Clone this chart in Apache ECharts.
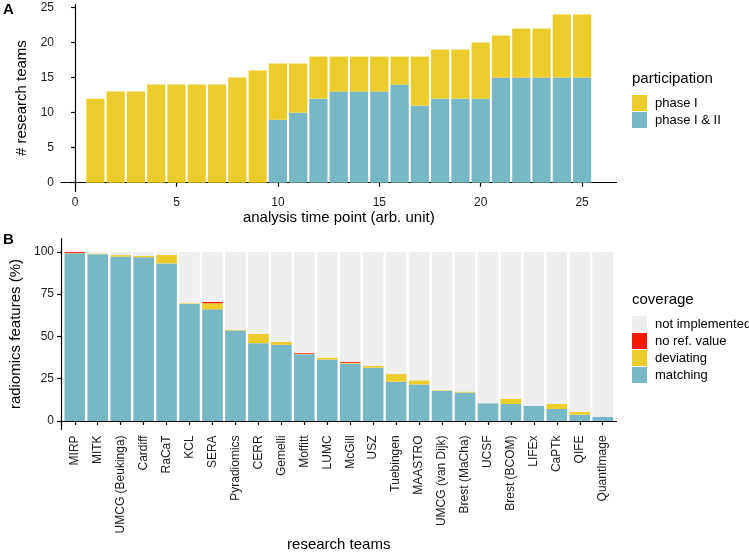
<!DOCTYPE html>
<html>
<head>
<meta charset="utf-8">
<script src="https://cdn.jsdelivr.net/npm/echarts@6/dist/echarts.min.js"></script>
<style>html,body{margin:0;padding:0;background:#fff}#c{width:749px;height:556px}</style>
</head>
<body>
<div id="c"></div>
<script>
// ---- Panel A data ----
const timePoints = [1,2,3,4,5,6,7,8,9,10,11,12,13,14,15,16,17,18,19,20,21,22,23,24,25];
const phaseIOnly = [12,13,13,14,14,14,14,15,16,8,7,6,5,5,5,4,7,7,7,8,6,7,7,9,9];
const phaseIandII = [0,0,0,0,0,0,0,0,0,9,10,12,13,13,13,14,11,12,12,12,15,15,15,15,15];
const ticksA_x = [0,5,10,15,20,25];
const ticksA_y = [0,5,10,15,20,25];

// ---- Panel B data ----
const teams = ["MIRP","MITK","UMCG (Beukinga)","Cardiff","RaCaT","KCL","SERA","Pyradiomics","CERR","Gemelli","Moffitt","LUMC","McGill","USZ","Tuebingen","MAASTRO","UMCG (van Dijk)","Brest (MaCha)","UCSF","Brest (BCOM)","LIFEx","CaPTk","QIFE","QuantImage"];
const matching =  [99.2,98.6,97.2,96.8,93.2,69.2,66.0,53.5,46.0,45.0,39.5,36.3,33.9,31.5,23.2,21.6,17.8,16.8,10.5,10.0,8.9,7.1,3.7,2.5];
const deviating = [0.2,0.4,0.9,0.9,5.0,0.4,3.6,0.5,5.4,1.8,0.3,1.2,0.5,1.2,4.5,2.4,0.4,0.6,0.0,3.0,0.0,3.0,1.6,0.0];
const noRefValue = [0.6,0,0,0,0,0,0.8,0,0,0,0.5,0,0.6,0,0,0,0,0,0,0,0,0,0,0];
const ticksB_y = [0,25,50,75,100];
const notImplemented = teams.map((t,i) => Math.max(0, 100 - matching[i] - deviating[i] - noRefValue[i]));

const FONT = 'Liberation Sans, Arial, sans-serif';
const C_TEAL = '#78B7C5', C_YEL = '#EBCC2A', C_RED = '#F21A00', C_GRAY = '#EFEFEF';

const chart = echarts.init(document.getElementById('c'), null, {renderer: 'canvas'});

const axisLineStyle = {show: true, lineStyle: {color: '#000', width: 1.2}};
const tickStyle = {show: true, length: 4, lineStyle: {color: '#000', width: 1.2}};
const labelStyle = {color: '#1a1a1a', fontFamily: FONT, fontSize: 12};
const nameStyle = {color: '#000', fontFamily: FONT, fontSize: 15};
const legendText = {fontFamily: FONT, fontSize: 13, color: '#000', padding: [0,0,0,3]};

// data items are [value, position] so that the value is the stacked (first numeric) dimension
function barSeries(name, gi, stack, width, color, positions, values) {
  return {
    name: name, type: 'bar', xAxisIndex: gi, yAxisIndex: gi, stack: stack, barWidth: width,
    encode: {x: 1, y: 0},
    itemStyle: {color: color},
    data: positions.map((p, i) => [values[i], p])
  };
}
const teamPos = teams.map((t, i) => i + 1);

const option = {
  animation: false,
  textStyle: {fontFamily: FONT},
  grid: [
    {left: 61, right: 132.5, top: 4.7, bottom: 364.5, containLabel: false},
    {left: 61, right: 132.5, top: 238.7, bottom: 126.6, containLabel: false}
  ],
  xAxis: [
    {
      gridIndex: 0, type: 'value', min: -0.695, max: 26.695,
      name: 'analysis time point (arb. unit)', nameLocation: 'middle', nameGap: 19,
      nameTextStyle: nameStyle,
      axisLine: axisLineStyle,
      axisTick: Object.assign({customValues: ticksA_x}, tickStyle),
      axisLabel: Object.assign({customValues: ticksA_x, margin: 5}, labelStyle),
      splitLine: {show: false}
    },
    {
      gridIndex: 1, type: 'value', min: 0.4, max: teams.length + 0.6,
      name: 'research teams', nameLocation: 'middle', nameGap: 108,
      nameTextStyle: nameStyle,
      axisLine: axisLineStyle,
      axisTick: Object.assign({customValues: teamPos}, tickStyle),
      axisLabel: Object.assign({customValues: teamPos, rotate: 90, margin: 6,
        formatter: v => teams[Math.round(v)-1] || ''}, labelStyle),
      splitLine: {show: false}
    }
  ],
  yAxis: [
    {
      gridIndex: 0, type: 'value', min: -1.25, max: 25.4,
      name: '# research teams', nameLocation: 'middle', nameGap: 30,
      nameTextStyle: nameStyle,
      axisLine: axisLineStyle,
      axisTick: Object.assign({customValues: ticksA_y}, tickStyle),
      axisLabel: Object.assign({customValues: ticksA_y, margin: 7}, labelStyle),
      splitLine: {show: false}
    },
    {
      gridIndex: 1, type: 'value', min: -5, max: 107.8,
      name: 'radiomics features (%)', nameLocation: 'middle', nameGap: 30,
      nameTextStyle: nameStyle,
      axisLine: axisLineStyle,
      axisTick: Object.assign({customValues: ticksB_y}, tickStyle),
      axisLabel: Object.assign({customValues: ticksB_y, margin: 7}, labelStyle),
      splitLine: {show: false}
    }
  ],
  legend: [
    {
      orient: 'vertical', left: 632, top: 95, padding: 0, itemWidth: 15, itemHeight: 16, itemGap: 1,
      icon: 'rect', selectedMode: false, textStyle: legendText,
      data: ['phase I', 'phase I & II']
    },
    {
      orient: 'vertical', left: 632, top: 316, padding: 0, itemWidth: 15, itemHeight: 16, itemGap: 1,
      icon: 'rect', selectedMode: false, textStyle: legendText,
      data: ['not implemented', 'no ref. value', 'deviating', 'matching']
    }
  ],
  graphic: [
    {type: 'text', left: 632, top: 71, style: {text: 'participation', fontFamily: FONT, fontSize: 15, fill: '#000'}},
    {type: 'text', left: 632, top: 292, style: {text: 'coverage', fontFamily: FONT, fontSize: 15, fill: '#000'}},
    {type: 'text', left: 3, top: 2, style: {text: 'A', fontFamily: FONT, fontSize: 15, fontWeight: 'bold', fill: '#000'}},
    {type: 'text', left: 3, top: 232, style: {text: 'B', fontFamily: FONT, fontSize: 15, fontWeight: 'bold', fill: '#000'}}
  ],
  series: [
    barSeries('phase I & II', 0, 'a', 18.2, C_TEAL, timePoints, phaseIandII),
    barSeries('phase I', 0, 'a', 18.2, C_YEL, timePoints, phaseIOnly),
    barSeries('matching', 1, 'b', 20.6, C_TEAL, teamPos, matching),
    barSeries('deviating', 1, 'b', 20.6, C_YEL, teamPos, deviating),
    barSeries('no ref. value', 1, 'b', 20.6, C_RED, teamPos, noRefValue),
    barSeries('not implemented', 1, 'b', 20.6, C_GRAY, teamPos, notImplemented)
  ]
};
chart.setOption(option);
</script>
</body>
</html>
